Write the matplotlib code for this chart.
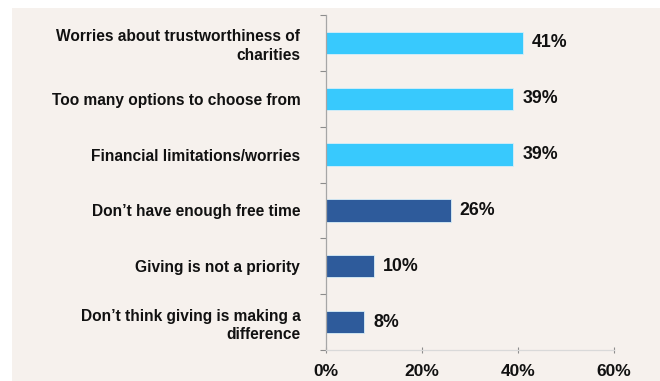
import numpy as np
import matplotlib.pyplot as plt
from matplotlib.patches import Rectangle

categories = [
    "Worries about trustworthiness of\ncharities",
    "Too many options to choose from",
    "Financial limitations/worries",
    "Don\u2019t have enough free time",
    "Giving is not a priority",
    "Don\u2019t think giving is making a\ndifference",
]
values = [41, 39, 39, 26, 10, 8]
bar_colors = ["#38c9fd", "#38c9fd", "#38c9fd", "#2e5b9b", "#2e5b9b", "#2e5b9b"]
xticks = [0, 20, 40, 60]

plt.rcParams['font.family'] = ['Liberation Sans', 'DejaVu Sans']

bg = "#f6f1ed"
fig = plt.figure(figsize=(6.6, 3.81), dpi=100)
fig.patch.set_facecolor("white")
fig.patches.append(Rectangle((12 / 660, 0), 1, 1 - 8 / 381, transform=fig.transFigure,
                             facecolor=bg, edgecolor="none", zorder=-10))

ax = fig.add_axes([326 / 660, 1 - 350 / 381, 288 / 660, 335 / 381])
ax.set_facecolor("none")

y = np.arange(len(categories))
ax.barh(y, values, height=0.4, color=bar_colors, edgecolor="#d8eef8", linewidth=0.6)
ax.set_ylim(len(categories) - 0.5, -0.5)
ax.set_xlim(0, 60)

for yi, v in zip(y, values):
    ax.annotate(f"{v}%", (v, yi), xytext=(6.5, 0), textcoords="offset points",
                va="center", ha="left", fontsize=12.8, fontweight="bold", color="#111111")

ax.set_yticks(y)
ax.set_yticklabels(categories, fontsize=11.2, fontweight="bold", color="#111111",
                   linespacing=1.3)
ax.tick_params(axis="y", length=0, pad=18.5)
ax.set_yticks(np.arange(-0.5, len(categories), 1), minor=True)
ax.tick_params(axis="y", which="minor", length=4, color="#8c8c8c", width=0.8)

ax.set_xticks(xticks)
ax.set_xticklabels([f"{t}%" for t in xticks], fontsize=12.5, fontweight="bold", color="#111111")
ax.tick_params(axis="x", length=4, color="#8c8c8c", width=0.8, direction="inout", pad=8)

for s in ["top", "right"]:
    ax.spines[s].set_visible(False)
ax.spines["left"].set_color("#a6a6a6")
ax.spines["bottom"].set_color("#d9d9d9")
ax.spines["left"].set_linewidth(0.9)
ax.spines["bottom"].set_linewidth(0.9)

fig.savefig("out.png", dpi=100, facecolor=fig.get_facecolor())
